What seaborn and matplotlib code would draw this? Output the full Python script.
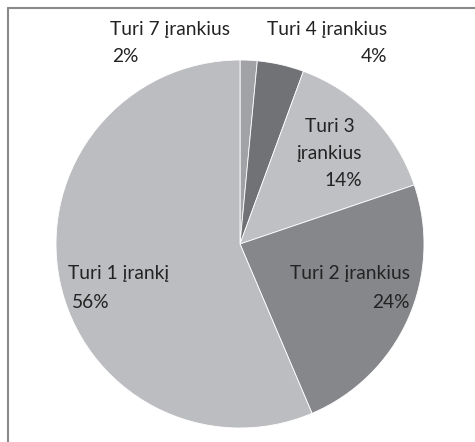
import matplotlib
matplotlib.use("Agg")
import matplotlib.pyplot as plt
import seaborn as sns
from matplotlib.lines import Line2D

# Data (clockwise from 12 o'clock)
categories = ["Turi 7 įrankius", "Turi 4 įrankius", "Turi 3 įrankius", "Turi 2 įrankius", "Turi 1 įrankį"]
shares = [1.5, 4.1, 14.2, 23.8, 56.4]
pct_labels = ["2%", "4%", "14%", "24%", "56%"]
colors = ["#a1a2a5", "#717276", "#bfc0c3", "#86878b", "#bcbdc0"]

sns.set_theme(style="white")
plt.rcParams["font.family"] = ["Lato", "DejaVu Sans"]

W, H = 475, 442
fig = plt.figure(figsize=(W / 100, H / 100), dpi=100)
fig.patch.set_facecolor("white")

cx, cy, r = 240, 244, 184
ax = fig.add_axes([(cx - r) / W, (H - cy - r) / H, 2 * r / W, 2 * r / H])
ax.pie(shares, colors=colors, startangle=90, counterclock=False, radius=1,
       wedgeprops=dict(edgecolor="white", linewidth=0.6))
ax.set_xlim(-1, 1)
ax.set_ylim(-1, 1)
ax.set_aspect("equal")
ax.axis("off")

# Frame lines (left and top visible)
fig.add_artist(Line2D([7.5 / W, 7.5 / W], [0, 1 - 8 / H], color="#8a8a8a", lw=1.5, transform=fig.transFigure))
fig.add_artist(Line2D([7.5 / W, 1], [1 - 8 / H, 1 - 8 / H], color="#8a8a8a", lw=1.5, transform=fig.transFigure))

tc = "#232323"
fs = 13.8

def t(x, y, s, ha):
    fig.text(x / W, 1 - y / H, s, ha=ha, va="center", fontsize=fs, color=tc)

# Turi 7
t(110, 30, categories[0], "left")
t(112, 57, pct_labels[0], "left")
# Turi 4
t(387, 30, categories[1], "right")
t(387, 57, pct_labels[1], "right")
# Turi 3
t(330, 127, "Turi 3", "center")
t(329, 154, "įrankius", "center")
t(362, 181, pct_labels[2], "right")
# Turi 2
t(410, 273, categories[3], "right")
t(410, 302, pct_labels[3], "right")
# Turi 1
t(68, 273, categories[4], "left")
t(72, 302, pct_labels[4], "left")

fig.savefig("out.png", dpi=100, facecolor="white")
